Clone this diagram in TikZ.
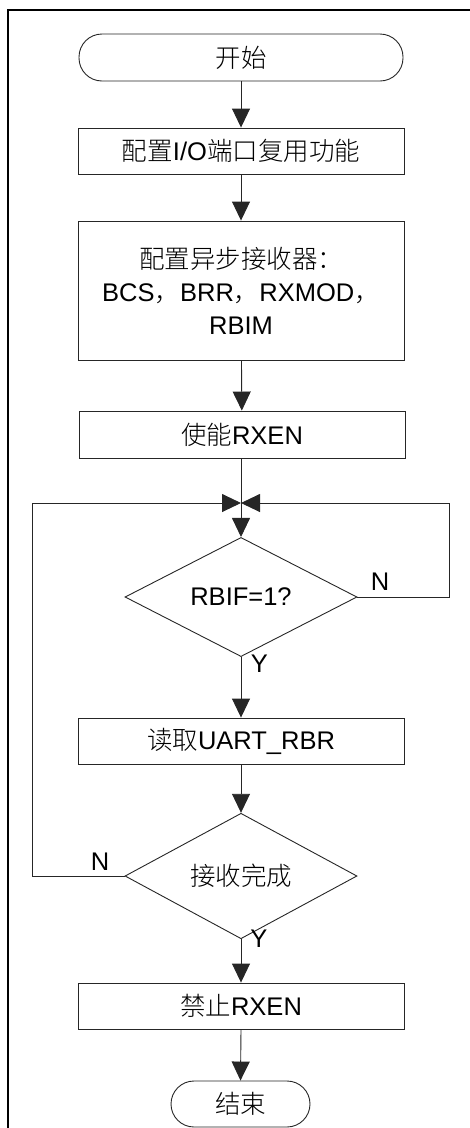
\documentclass[tikz,border=0pt]{standalone}
\usepackage{fontspec}
\setmainfont{Liberation Sans}
\newfontfamily\cjk{Noto Sans CJK SC}[UprightFont={* Light}]
\usetikzlibrary{shapes.geometric,arrows.meta}
\begin{document}
\begin{tikzpicture}[x=1pt,y=-1pt,
  font=\fontsize{25.5}{33}\selectfont,
  box/.style={draw=black!85,line width=0.9pt,minimum width=326pt,minimum height=46pt,inner sep=0pt,align=center},
  term/.style={box,rounded corners=23pt},
  dec/.style={draw=black!85,line width=0.9pt,diamond,minimum width=232pt,minimum height=92pt,inner sep=0pt},
  conn/.style={draw=black!85,line width=0.9pt},
  arr/.style={conn,-{Triangle[width=18pt,length=19pt]}},
  lbl/.style={inner sep=0pt}]
\useasboundingbox (0,0) rectangle (470,1128);
\draw[line width=2pt] (8,1128) -- (8,10) -- (470,10);

\node[term,minimum width=324pt,minimum height=47pt] (start) at (241,57.5) {\cjk 开始};
\node[box] (b1) at (241,151) {{\cjk 配置}I/O{\cjk 端口复用功能}};
\node[box,minimum height=139pt] (b2) at (241,290.5) {{\cjk 配置异步接收器：}\\BCS{\cjk ，}BRR{\cjk ，}RXMOD{\cjk ，}\\RBIM};
\node[box,minimum height=47pt] (b3) at (242,434.5) {{\cjk 使能}RXEN};
\coordinate (J) at (241,503);
\node[dec] (d1) at (241,597) {RBIF=1?};
\node[box] (b4) at (241,741) {{\cjk 读取}UART\_RBR};
\node[dec] (d2) at (241,876) {\cjk 接收完成};
\node[box] (b5) at (241,1006) {{\cjk 禁止}RXEN};
\node[term,minimum width=139pt,minimum height=46pt] (end) at (240.5,1104) {\cjk 结束};

\coordinate (R1) at (449,597);
\coordinate (R2) at (449,503);
\coordinate (L1) at (32,876);
\coordinate (L2) at (32,503);

\node[lbl] (n1) at (380,582) {N};
\node[lbl] (y1) at (259.5,664) {Y};
\node[lbl] (n2) at (100,862) {N};
\node[lbl] (y2) at (259,939) {Y};

\draw[arr] (start) -- (b1);
\draw[arr] (b1) -- (b2);
\draw[arr] (b2) -- (b3);
\draw[conn] (b3.south -| J) -- (J);
\draw[arr] (J) -- (d1.north);
\draw[arr] (d1.east) -- (R1) -- (R2) -- (J);
\draw[arr] (d1.south) -- (b4.north);
\draw[arr] (b4.south) -- (d2.north);
\draw[arr] (d2.west) -- (L1) -- (L2) -- (J);
\draw[arr] (d2.south) -- (b5.north);
\draw[arr] (b5.south) -- (end.north);
\end{tikzpicture}
\end{document}
